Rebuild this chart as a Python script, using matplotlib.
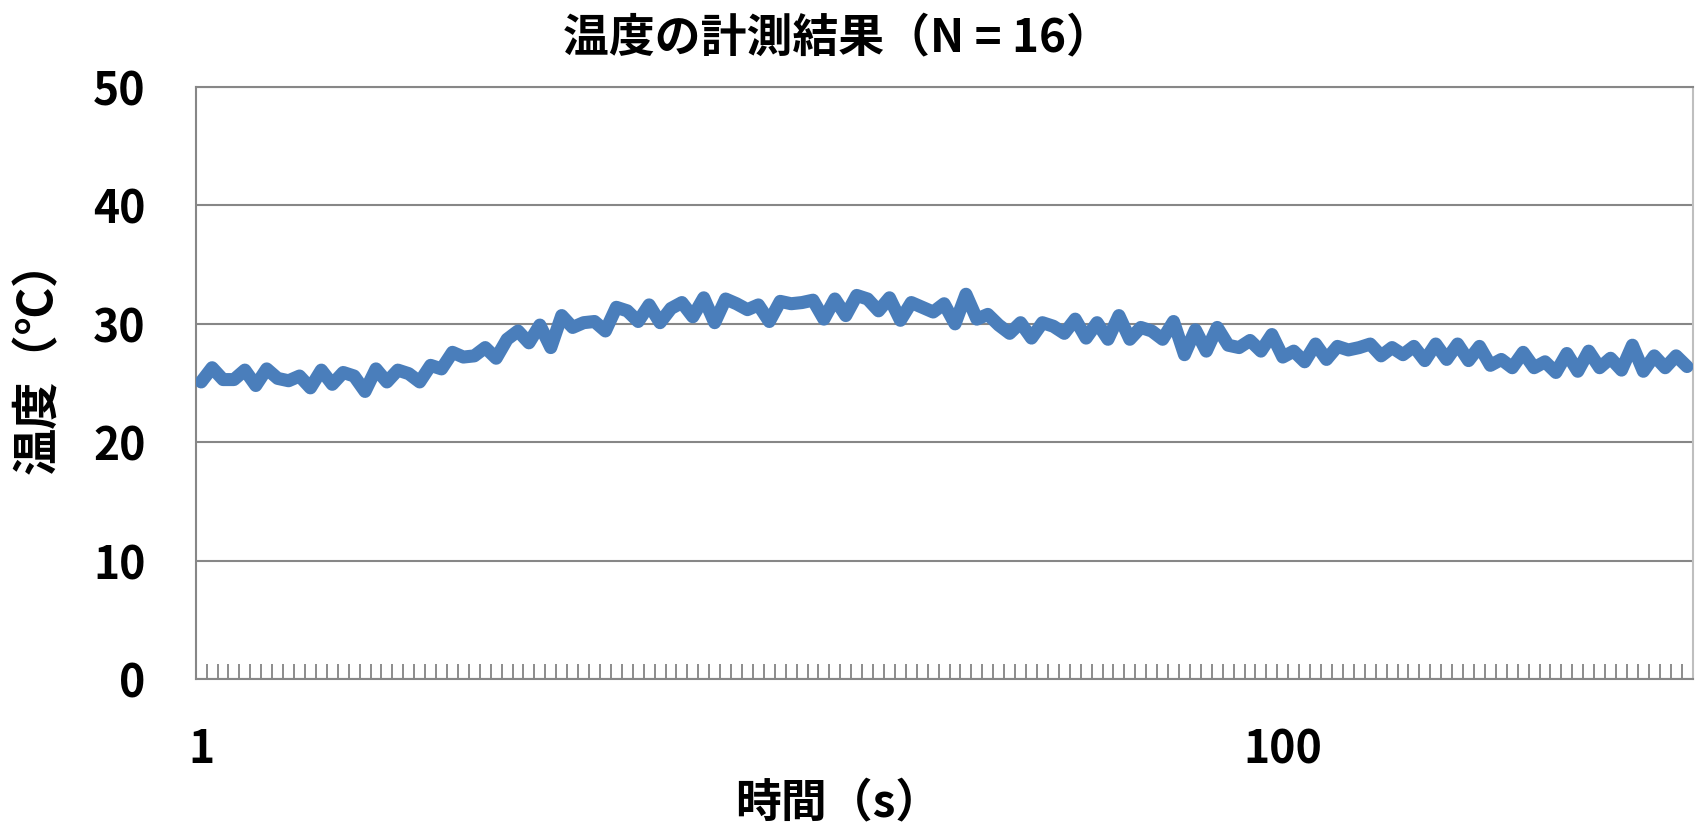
import matplotlib
matplotlib.use("Agg")
import matplotlib.pyplot as plt
import numpy as np

plt.rcParams['font.family'] = ['Noto Sans CJK JP', 'DejaVu Sans']
plt.rcParams['font.weight'] = 'bold'

# Temperature readings, one per second (categories 1..137)
seconds = list(range(1, 138))
temperature = [
    25.1, 26.3, 25.3, 25.3, 26.1, 24.8, 26.2, 25.4, 25.2, 25.6,
    24.6, 26.1, 24.9, 25.9, 25.6, 24.3, 26.2, 25.1, 26.1, 25.8,
    25.1, 26.5, 26.2, 27.6, 27.2, 27.3, 28.0, 27.1, 28.7, 29.4,
    28.4, 29.9, 28.0, 30.7, 29.7, 30.1, 30.2, 29.4, 31.4, 31.1,
    30.2, 31.6, 30.1, 31.3, 31.8, 30.6, 32.2, 30.1, 32.1, 31.7,
    31.2, 31.6, 30.2, 31.9, 31.7, 31.8, 32.0, 30.4, 32.1, 30.7,
    32.4, 32.1, 31.1, 32.2, 30.3, 31.8, 31.4, 31.0, 31.7, 30.0,
    32.5, 30.4, 30.8, 29.9, 29.2, 30.1, 28.8, 30.1, 29.8, 29.2,
    30.4, 28.8, 30.1, 28.7, 30.7, 28.7, 29.7, 29.4, 28.7, 30.2,
    27.4, 29.5, 27.7, 29.7, 28.2, 28.0, 28.6, 27.7, 29.1, 27.2,
    27.7, 26.8, 28.3, 27.0, 28.1, 27.8, 28.0, 28.3, 27.3, 28.0,
    27.4, 28.1, 26.9, 28.3, 27.0, 28.3, 26.9, 28.1, 26.5, 27.0,
    26.3, 27.6, 26.3, 26.8, 25.9, 27.5, 26.0, 27.7, 26.3, 27.1,
    26.1, 28.2, 26.0, 27.3, 26.3, 27.3, 26.4,
]
x_labels = ['1', '100']
y_ticks = [0, 10, 20, 30, 40, 50]

title = '温度の計測結果（N = 16）'
x_title = '時間（s）'
y_title = '温度（℃）'

line_color = '#4a7ebb'
grid_color = '#878787'

fig = plt.figure(figsize=(17, 8.295), dpi=100)
ax = fig.add_axes([0.11512, 0.18034, 0.88047, 0.71435])

ax.plot(seconds, temperature, color=line_color, linewidth=9.4,
        solid_joinstyle='round', solid_capstyle='round', zorder=3)

n = len(seconds)
ax.set_xlim(0.5, n + 0.5)
ax.set_ylim(y_ticks[0], y_ticks[-1])

# y axis: horizontal gridlines, labels only
ax.set_yticks(y_ticks)
ax.set_yticklabels([str(v) for v in y_ticks])
ax.yaxis.grid(True, color=grid_color, linewidth=1.5)
ax.set_axisbelow(True)
ax.tick_params(axis='y', length=0, pad=36, labelsize=32)

# x axis: category labels at 1 and 100, inward marks between categories
label_pos = [seconds[int(s) - 1] for s in x_labels]
ax.set_xticks(label_pos)
ax.set_xticklabels(x_labels)
ax.set_xticks(np.arange(1.5, n, 1.0), minor=True)
ax.tick_params(axis='x', which='major', length=0, pad=34, labelsize=32)
ax.tick_params(axis='x', which='minor', direction='in', length=10.8,
               width=1.4, color='#8c8c8c')

for side in ('left', 'bottom', 'top'):
    ax.spines[side].set_color(grid_color)
    ax.spines[side].set_linewidth(1.5)
ax.spines['right'].set_color('#bfbfbf')
ax.spines['right'].set_linewidth(1.5)

fig.text(837 / 1700, 1 - 38 / 829, title, ha='center', va='center',
         fontsize=33, fontweight='bold')
fig.text(838 / 1700, 1 - 803 / 829, x_title, ha='center', va='center',
         fontsize=33, fontweight='bold')
fig.text(38 / 1700, 1 - 356 / 829, y_title, ha='center', va='center',
         rotation=90, fontsize=34, fontweight='bold')

fig.savefig('out.png', dpi=100)
